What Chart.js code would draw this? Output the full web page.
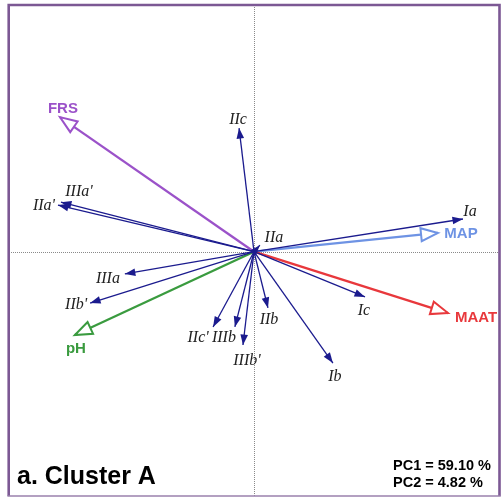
<!DOCTYPE html>
<html>
<head>
<meta charset="utf-8">
<script src="https://cdn.jsdelivr.net/npm/chart.js@4/dist/chart.umd.min.js"></script>
<style>
  html, body { margin: 0; padding: 0; background: #fff; }
  #wrap { width: 501px; height: 497px; position: relative; }
</style>
</head>
<body>
<div id="wrap"><canvas id="c" width="501" height="497"></canvas></div>
<script>
// PCA loadings: species scores (navy arrows)
const speciesNames = ["Ia", "Ib", "Ic", "IIa", "IIb", "IIc", "IIa'", "IIb'", "IIc'", "IIIa", "IIIb", "IIIa'", "IIIb'"];
const speciesPC1   = [0.853, 0.322, 0.453, 0.024, 0.057, -0.061, -0.800, -0.669, -0.167, -0.527, -0.078, -0.788, -0.045];
const speciesPC2   = [0.134, -0.456, -0.185, 0.027, -0.230, 0.506, 0.191, -0.210, -0.308, -0.091, -0.308, 0.203, -0.382];

// Environmental variables (open-headed arrows)
const envNames = ["MAAT", "MAP", "FRS", "pH"];
const envPC1   = [0.792, 0.751, -0.792, -0.731];
const envPC2   = [-0.251, 0.077, 0.551, -0.341];

const explainedPC1 = "59.10";
const explainedPC2 = "4.82";
const panelTitle = "a. Cluster A";

// Styling
const NAVY = "#1b1b8e";
const envColors = { MAAT: "#e8383c", MAP: "#6e93e4", FRS: "#9b52c9", pH: "#3a9b3f" };
// label centre offsets from arrow tip, in pixels
const labelOffsets = {
  "Ia": [7, -7], "Ib": [2, 14], "Ic": [-1, 14], "IIa": [14, -7], "IIb": [1, 12],
  "IIc": [-1, -8], "IIa'": [-14, 1], "IIb'": [-14, 2], "IIc'": [-15, 11],
  "IIIa": [-17, 5], "IIIb": [-11, 11], "IIIa'": [18, -10], "IIIb'": [4, 16],
  "MAAT": [28, 5], "MAP": [23, 1], "FRS": [3, -8], "pH": [1, 14]
};

const datasets = [];
speciesNames.forEach((n, i) => {
  datasets.push({
    label: n, kind: "species",
    data: [{ x: 0, y: 0 }, { x: speciesPC1[i], y: speciesPC2[i] }],
    showLine: true, borderColor: NAVY, borderWidth: 1.3,
    pointRadius: 0, pointHoverRadius: 0
  });
});
envNames.forEach((n, i) => {
  datasets.push({
    label: n, kind: "env",
    data: [{ x: 0, y: 0 }, { x: envPC1[i], y: envPC2[i] }],
    showLine: true, borderColor: envColors[n], borderWidth: 2.3,
    pointRadius: 0, pointHoverRadius: 0
  });
});

const biplotDecor = {
  id: "biplotDecor",
  beforeDatasetsDraw(chart) {
    const { ctx, chartArea: a, scales } = chart;
    const x0 = scales.x.getPixelForValue(0);
    const y0 = scales.y.getPixelForValue(0);
    ctx.save();
    ctx.strokeStyle = "#8a8a8a";
    ctx.lineWidth = 1;
    ctx.setLineDash([1, 1]);
    ctx.beginPath();
    ctx.moveTo(Math.round(x0) + 0.5, a.top);
    ctx.lineTo(Math.round(x0) + 0.5, a.bottom);
    ctx.moveTo(a.left, Math.round(y0) + 0.5);
    ctx.lineTo(a.right, Math.round(y0) + 0.5);
    ctx.stroke();
    ctx.restore();
  },
  afterDatasetsDraw(chart) {
    const { ctx } = chart;
    ctx.save();
    chart.data.datasets.forEach((ds, i) => {
      const pts = chart.getDatasetMeta(i).data;
      const p0 = pts[0], p1 = pts[1];
      const ang = Math.atan2(p1.y - p0.y, p1.x - p0.x);
      const env = ds.kind === "env";
      const len = env ? 17 : 10.5;
      const half = env ? 6.5 : 3.8;
      const bx = p1.x - Math.cos(ang) * len, by = p1.y - Math.sin(ang) * len;
      const nx = -Math.sin(ang) * half, ny = Math.cos(ang) * half;
      ctx.beginPath();
      ctx.moveTo(p1.x, p1.y);
      ctx.lineTo(bx + nx, by + ny);
      ctx.lineTo(bx - nx, by - ny);
      ctx.closePath();
      if (env) {
        ctx.fillStyle = "#ffffff";
        ctx.fill();
        ctx.lineWidth = 2;
        ctx.lineJoin = "miter";
        ctx.strokeStyle = ds.borderColor;
        ctx.stroke();
      } else {
        ctx.fillStyle = NAVY;
        ctx.fill();
      }
      // label
      const off = labelOffsets[ds.label] || [0, 0];
      ctx.textAlign = "center";
      ctx.textBaseline = "middle";
      if (env) {
        ctx.font = "bold 15px 'Liberation Sans', Arial, sans-serif";
        ctx.fillStyle = ds.borderColor;
      } else {
        ctx.font = "italic 16px 'Liberation Serif', 'Times New Roman', serif";
        ctx.fillStyle = "#222222";
      }
      ctx.fillText(ds.label, p1.x + off[0], p1.y + off[1]);
    });
    ctx.restore();
  },
  afterDraw(chart) {
    const { ctx, chartArea: a } = chart;
    ctx.save();
    // panel frame
    ctx.strokeStyle = "#7c5894";
    ctx.lineWidth = 2.6;
    ctx.beginPath();
    ctx.moveTo(a.left - 0.3, a.bottom);
    ctx.lineTo(a.left - 0.3, a.top);
    ctx.lineTo(a.right + 0.5, a.top);
    ctx.lineTo(a.right + 0.5, a.bottom);
    ctx.stroke();
    ctx.lineWidth = 1.5;
    ctx.strokeStyle = "#9a80ad";
    ctx.beginPath();
    ctx.moveTo(a.left - 1.6, a.bottom);
    ctx.lineTo(a.right + 1.8, a.bottom);
    ctx.stroke();
    // panel title
    ctx.fillStyle = "#000";
    ctx.textAlign = "left";
    ctx.textBaseline = "alphabetic";
    ctx.font = "bold 25px 'Liberation Sans', Arial, sans-serif";
    ctx.fillText(panelTitle, 17, 484);
    // explained variance
    ctx.font = "bold 14.5px 'Liberation Sans', Arial, sans-serif";
    ctx.fillText("PC1 = " + explainedPC1 + " %", 393, 470);
    ctx.fillText("PC2 = " + explainedPC2 + " %", 393, 487);
    ctx.restore();
  }
};

new Chart(document.getElementById("c"), {
  type: "scatter",
  data: { datasets },
  options: {
    responsive: false,
    animation: false,
    events: [],
    layout: { padding: { left: 9, right: 2, top: 5, bottom: 1 } },
    plugins: { legend: { display: false }, tooltip: { enabled: false } },
    scales: {
      x: { type: "linear", min: -1, max: 1, display: false },
      y: { type: "linear", min: -1.0, max: 1.01, display: false }
    }
  },
  plugins: [biplotDecor]
});
</script>
</body>
</html>
